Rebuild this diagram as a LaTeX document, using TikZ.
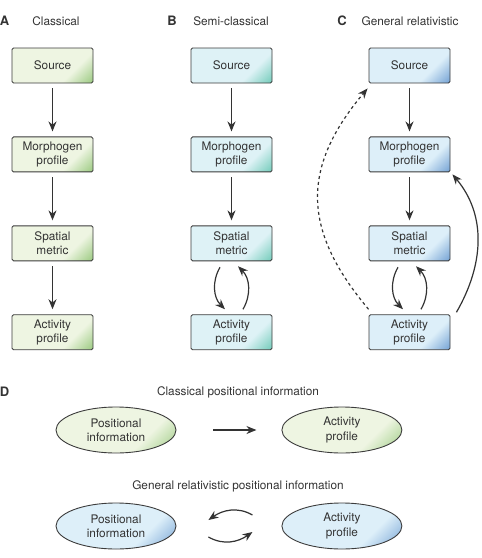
\documentclass[tikz,border=0pt]{standalone}
\usepackage{fontspec}
\setmainfont{TeX Gyre Heros}
\usetikzlibrary{shapes.geometric,arrows.meta,positioning}
\definecolor{greenlight}{HTML}{EEF5E2}
\definecolor{greendark}{HTML}{86BF68}
\definecolor{teallight}{HTML}{DEF2F6}
\definecolor{tealdark}{HTML}{58C2AB}
\definecolor{bluelight}{HTML}{DDEFF9}
\definecolor{bluedark}{HTML}{5A8FCB}
\definecolor{edgegray}{HTML}{3C3C3C}
\definecolor{textgray}{HTML}{333333}
\pgfdeclarehorizontalshading{greencorner}{100bp}{color(0bp)=(greenlight); color(66bp)=(greenlight); color(90bp)=(greendark); color(100bp)=(greendark)}
\pgfdeclarehorizontalshading{tealcorner}{100bp}{color(0bp)=(teallight); color(66bp)=(teallight); color(90bp)=(tealdark); color(100bp)=(tealdark)}
\pgfdeclarehorizontalshading{bluecorner}{100bp}{color(0bp)=(bluelight); color(66bp)=(bluelight); color(90bp)=(bluedark); color(100bp)=(bluedark)}

\begin{document}
\begin{tikzpicture}[x=1pt,y=1pt,font=\fontsize{11.8}{14.3}\selectfont,text=textgray,
  box/.style={rectangle,draw=edgegray,line width=0.9pt,rounded corners=1.5pt,minimum width=81pt,minimum height=35pt,inner sep=0pt,align=center,shade,shading angle=-45},
  oval/.style={ellipse,draw=edgegray,line width=0.9pt,minimum width=120pt,minimum height=46pt,inner sep=0pt,align=center,shade,shading angle=-45},
  greenfill/.style={shading=greencorner},
  tealfill/.style={shading=tealcorner},
  bluefill/.style={shading=bluecorner},
  link/.style={-{Stealth[length=10pt,width=8pt]},line width=1.2pt,draw=textgray},
  gap/.style={shorten <=5pt,shorten >=5pt},
  panel/.style={font=\fontsize{13}{15}\selectfont\bfseries}]
  \useasboundingbox (0,0) rectangle (482,-558);

  % Titles
  \node[panel] (labA) at (4.5,-21) {A};
  \node (titA) at (56,-21) {Classical};
  \node[panel] (labB) at (172,-21) {B};
  \node (titB) at (231,-21) {Semi-classical};
  \node[panel] (labC) at (342,-21) {C};
  \node (titC) at (410,-21) {General relativistic};

  % Column A
  \node[box,greenfill] (srcA) at (52.5,-65.5) {Source};
  \node[box,greenfill,below=53pt of srcA] (morA) {Morphogen\\profile};
  \node[box,greenfill,below=53pt of morA] (metA) {Spatial\\metric};
  \node[box,greenfill,below=53pt of metA] (actA) {Activity\\profile};

  % Column B
  \node[box,tealfill] (srcB) at (231.5,-65.5) {Source};
  \node[box,tealfill,below=53pt of srcB] (morB) {Morphogen\\profile};
  \node[box,tealfill,below=53pt of morB] (metB) {Spatial\\metric};
  \node[box,tealfill,below=53pt of metB] (actB) {Activity\\profile};

  % Column C
  \node[box,bluefill] (srcC) at (409.5,-65.5) {Source};
  \node[box,bluefill,below=53pt of srcC] (morC) {Morphogen\\profile};
  \node[box,bluefill,below=53pt of morC] (metC) {Spatial\\metric};
  \node[box,bluefill,below=53pt of metC] (actC) {Activity\\profile};

  % Arrows A
  \draw[link,gap] (srcA) -- (morA);
  \draw[link,gap] (morA) -- (metA);
  \draw[link,gap] (metA) -- (actA);

  % Arrows B
  \draw[link,gap] (srcB) -- (morB);
  \draw[link,gap] (morB) -- (metB);
  \draw[link] ([xshift=-11.5pt,yshift=-6pt]metB.south) to[out=240,in=135] ([xshift=-6.5pt,yshift=5pt]actB.north);
  \draw[link] ([xshift=11.5pt,yshift=5pt]actB.north) to[out=60,in=-45] ([xshift=6.5pt,yshift=-5pt]metB.south);

  % Arrows C
  \draw[link,gap] (srcC) -- (morC);
  \draw[link,gap] (morC) -- (metC);
  \draw[link] ([xshift=-11.5pt,yshift=-6pt]metC.south) to[out=240,in=135] ([xshift=-6.5pt,yshift=5pt]actC.north);
  \draw[link] ([xshift=11.5pt,yshift=5pt]actC.north) to[out=60,in=-45] ([xshift=6.5pt,yshift=-5pt]metC.south);
  \draw[link] ([xshift=6pt,yshift=2pt]actC.north east) to[out=60,in=-50] ([xshift=2pt,yshift=-2pt]morC.south east);
  \draw[link,dashed] ([yshift=5pt]actC.north west) to[out=130,in=230,looseness=1.2] ([xshift=-1pt,yshift=-5pt]srcC.south west);

  % Panel D
  \node[panel] (labD) at (4.5,-392) {D};
  \node (titD1) at (238,-392) {Classical positional information};
  \node[oval,greenfill] (posTop) at (116,-430) {Positional\\information};
  \node[oval,greenfill,right=105pt of posTop] (actTop) {Activity\\profile};
  \draw[link] ([xshift=37pt]posTop.east) -- ([xshift=-25pt]actTop.west);

  \node (titD2) at (238,-486) {General relativistic positional information};
  \node[oval,bluefill] (posBot) at (116,-526) {Positional\\information};
  \node[oval,bluefill,right=105pt of posBot] (actBot) {Activity\\profile};
  \draw[link] ([xshift=-29pt,yshift=11pt]actBot.west) to[out=150,in=35] ([xshift=32pt,yshift=6pt]posBot.east);
  \draw[link] ([xshift=32pt,yshift=-11pt]posBot.east) to[out=-30,in=215] ([xshift=-29pt,yshift=-6pt]actBot.west);
\end{tikzpicture}
\end{document}
